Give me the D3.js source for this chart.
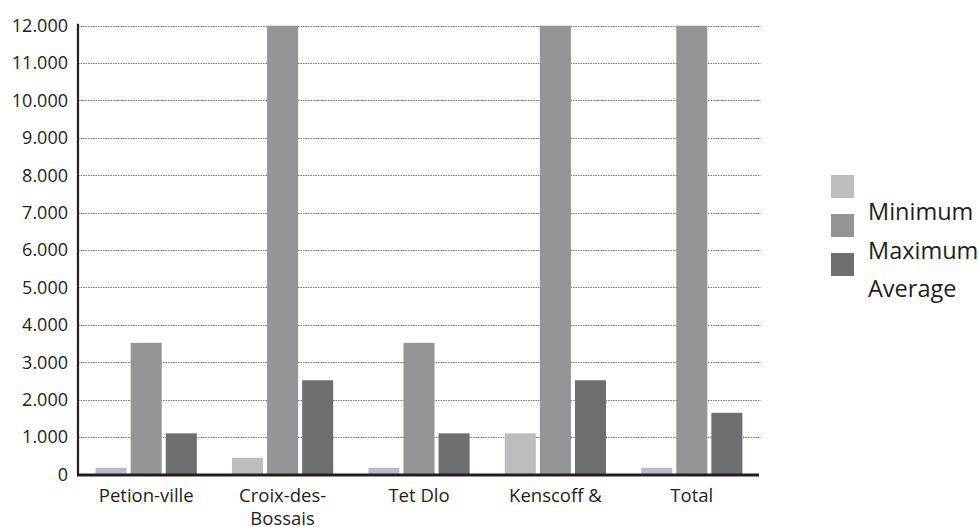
<!DOCTYPE html>
<html>
<head>
<meta charset="utf-8">
<script src="https://cdn.jsdelivr.net/npm/d3@7"></script>
<style>
  html, body { margin: 0; padding: 0; background: #fff; }
  svg { display: block; font-family: "Open Sans", sans-serif; }
</style>
</head>
<body>
<svg id="chart" width="979" height="527"></svg>
<script>
const categories = [["Petion-ville"], ["Croix-des-", "Bossais"], ["Tet Dlo"], ["Kenscoff &"], ["Total"]];
const seriesNames = ["Minimum", "Maximum", "Average"];
const minimumValues = [180, 450, 180, 1100, 180];
const maximumValues = [3520, 12000, 3520, 12000, 12000];
const averageValues = [1100, 2520, 1100, 2520, 1650];
const tickValues = [0, 1000, 2000, 3000, 4000, 5000, 6000, 7000, 8000, 9000, 10000, 11000, 12000];
const tickLabels = ["0", "1.000", "2.000", "3.000", "4.000", "5.000", "6.000", "7.000", "8.000", "9.000", "10.000", "11.000", "12.000"];
const colors = ["#bcbdc0", "#939598", "#6d6e71"];

(function () {
const svg = d3.select("#chart");
const mLeft = 78, mRight = 760, mTop = 25.7, mBottom = 474.5;
const textColor = "#231f20";

const y = d3.scaleLinear().domain([0, 12000]).range([mBottom, mTop]);
const x0 = d3.scaleBand().domain(d3.range(categories.length)).range([mLeft, mRight]).paddingInner(0.258).paddingOuter(0.129);
const x1 = d3.scaleBand().domain(d3.range(seriesNames.length)).range([0, x0.bandwidth()]).paddingInner(0.115).paddingOuter(0);

// gridlines
svg.append("g").selectAll("line").data(tickValues.filter(v => v > 0)).join("line")
  .attr("x1", mLeft).attr("x2", mRight + 1)
  .attr("y1", d => Math.round(y(d)) + 0.5).attr("y2", d => Math.round(y(d)) + 0.5)
  .attr("stroke", "#777").attr("stroke-width", 1).attr("stroke-dasharray", "1.5,1");

// bars
const series = [minimumValues, maximumValues, averageValues];
const rows = categories.map((c, i) => series.map((s, j) => ({ i, j, v: s[i] })));
const groups = svg.append("g").selectAll("g").data(rows).join("g")
  .attr("transform", (d, i) => `translate(${x0(i)},0)`);
groups.selectAll("rect").data(d => d).join("rect")
  .attr("x", d => x1(d.j)).attr("width", x1.bandwidth())
  .attr("y", d => y(d.v)).attr("height", d => y(0) - y(d.v))
  .attr("fill", d => colors[d.j]);

// y axis
const yAxis = d3.axisLeft(y).tickValues(tickValues).tickFormat((d, i) => tickLabels[i]).tickSize(0).tickPadding(10);
const gy = svg.append("g").attr("transform", `translate(${mLeft},0)`).call(yAxis);
gy.select(".domain").attr("stroke", textColor).attr("stroke-width", 2.2).attr("d", `M0,${mTop - 2}V${mBottom}`);
gy.selectAll("text").attr("font-size", 18).attr("fill", textColor).attr("font-family", "Open Sans, sans-serif");

// x axis
const xAxis = d3.axisBottom(x0).tickSize(0).tickFormat(() => "");
const gx = svg.append("g").attr("transform", `translate(0,${mBottom})`).call(xAxis);
gx.select(".domain").attr("stroke", textColor).attr("stroke-width", 3).attr("d", `M${mLeft - 1},0.5H${mRight - 1}`);
gx.selectAll(".tick").each(function(d) {
  const t = d3.select(this).select("text").attr("y", 0).attr("dy", null)
    .attr("font-size", 18.5).attr("fill", textColor).attr("font-family", "Open Sans, sans-serif");
  t.selectAll("tspan").data(categories[d]).join("tspan")
    .attr("x", 0).attr("y", (s, k) => 27 + k * 23.5).text(s => s);
});

// legend
const legend = svg.append("g");
legend.selectAll("rect").data(seriesNames).join("rect")
  .attr("x", 831).attr("y", (d, i) => 175 + i * 39).attr("width", 23).attr("height", 23)
  .attr("fill", (d, i) => colors[i]);
legend.selectAll("text").data(seriesNames).join("text")
  .attr("x", 868).attr("y", (d, i) => 220 + i * 38.5)
  .attr("font-size", 23.5).attr("fill", textColor).text(d => d);
})();
</script>
</body>
</html>
